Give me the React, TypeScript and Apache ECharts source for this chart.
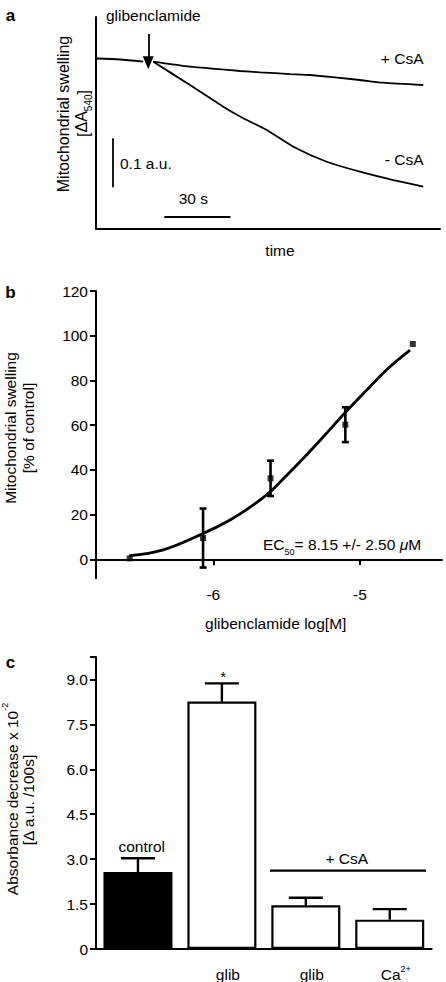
import React, { useEffect, useRef } from 'react';
import * as echarts from 'echarts';

// ---------- Panel a: swelling time course ----------
const baselineTime = [0, 10.9, 21.4];
const baselineA = [0.3474, 0.3454, 0.3409];
const plusCsATime = [26.0, 42.6, 65.3, 74.4, 88.0, 97.0, 119.7, 130.3, 148.4];
const plusCsAValue = [0.3409, 0.3307, 0.322, 0.3193, 0.3158, 0.3138, 0.3036, 0.2981, 0.2934];
const minusCsATime = [26.0, 42.6, 57.7, 66.8, 77.4, 89.5, 104.6, 119.7, 134.8, 148.4];
const minusCsAValue = [0.3409, 0.2934, 0.2492, 0.2256, 0.2017, 0.1677, 0.1371, 0.1168, 0.0998, 0.0862];
const glibAdditionTime = 23.7;
const arrowFromTo = [0.3974, 0.3389];
const scaleBarA = { t: 7.6, from: 0.085, to: 0.185 };
const scaleBarT = { a: 0.0251, from: 31, to: 61 };

// ---------- Panel b: dose response ----------
const doseLog = [-6.57, -6.07, -5.61, -5.1, -4.64];
const swellMean = [0.4, 9.5, 36.2, 60.2, 96.3];
const swellSem = [0, 13.2, 7.9, 7.8, 0];
const fitLog = [-6.573, -6.341, -6.068, -5.886, -5.727, -5.607, -5.543, -5.386, -5.25, -5.096, -4.932, -4.796, -4.659];
const fitValue = [1.6, 4.2, 11.6, 17.6, 24.3, 30.5, 34.7, 45.2, 54.8, 66, 77.2, 86.1, 93.6];
const doseTicks = [-6, -5];
const swellTicks = [0, 20, 40, 60, 80, 100, 120];

// ---------- Panel c: absorbance decrease ----------
const barCategories = ['control', 'glib', 'glib + CsA', 'Ca2+ + CsA'];
const barLabels = ['', 'glib', 'glib', 'Ca2+'];
const barMeans = [2.57, 8.26, 1.46, 0.98];
const barSem = [0.46, 0.61, 0.25, 0.35];
const barFill = ['#000000', '#ffffff', '#ffffff', '#ffffff'];

const FONT = '"Liberation Sans", Arial, Helvetica, sans-serif';

function txt(x: number, y: number, text: string, opts: any = {}) {
  return {
    type: 'text',
    x,
    y,
    rotation: opts.rotation || 0,
    silent: true,
    style: {
      text,
      fill: '#000',
      fontFamily: FONT,
      fontSize: opts.fontSize || 15,
      fontWeight: opts.fontWeight || 'normal',
      align: opts.align || 'center',
      verticalAlign: 'middle',
      textAlign: opts.align || 'center',
      textVerticalAlign: 'middle',
      rich: opts.rich,
    },
  };
}

export default function App() {
  const ref = useRef<HTMLDivElement>(null);

  useEffect(() => {
    document.body.style.margin = '0';
    if (!ref.current) return;
    const chart = echarts.init(ref.current, null, { renderer: 'svg' });

    const axisLine = { show: true, lineStyle: { color: '#000', width: 2 } };
    const labelStyle = { color: '#000', fontFamily: FONT, fontSize: 15.5 };

    const option: any = {
      animation: false,
      backgroundColor: '#fff',
      textStyle: { fontFamily: FONT },
      grid: [
        { left: 96, right: 6, top: 17, bottom: 753 },
        { left: 96, right: 4, top: 291, bottom: 403.7 },
        { left: 96, right: 14.3, top: 657, bottom: 31.3 },
      ],
      xAxis: [
        {
          gridIndex: 0, type: 'value', min: 0, max: 156,
          axisLine, axisTick: { show: false }, axisLabel: { show: false }, splitLine: { show: false },
        },
        {
          gridIndex: 1, type: 'value', min: -6.8, max: -4.441,
          axisLine,
          axisTick: { show: true, customValues: doseTicks, length: 6, lineStyle: { color: '#000', width: 2 } },
          axisLabel: { ...labelStyle, customValues: doseTicks, margin: 8 },
          splitLine: { show: false },
        },
        {
          gridIndex: 2, type: 'category', data: barCategories,
          axisLine, axisTick: { show: false },
          axisLabel: {
            ...labelStyle,
            margin: 15,
            interval: 0,
            padding: [0, 0, 0, 12],
            formatter: (_v: string, i: number) => {
              const l = barLabels[i];
              if (l === 'Ca2+') return '{n|Ca}{sup|2+}';
              return l ? '{n|' + l + '}' : '';
            },
            rich: {
              n: { fontFamily: FONT, fontSize: 15.5, color: '#000', lineHeight: 18, verticalAlign: 'bottom' },
              sup: { fontFamily: FONT, fontSize: 9, color: '#000', lineHeight: 18, verticalAlign: 'top' },
            },
          },
          splitLine: { show: false },
        },
      ],
      yAxis: [
        {
          gridIndex: 0, type: 'value', min: 0, max: 0.432,
          axisLine, axisTick: { show: false }, axisLabel: { show: false }, splitLine: { show: false },
        },
        {
          gridIndex: 1, type: 'value', min: -8.5, max: 120,
          axisLine,
          axisTick: { show: true, customValues: swellTicks, length: 6, lineStyle: { color: '#000', width: 2 } },
          axisLabel: { ...labelStyle, customValues: swellTicks, margin: 8 },
          splitLine: { show: false },
        },
        {
          gridIndex: 2, type: 'value', min: 0, max: 9.75, interval: 1.5,
          axisLine,
          axisTick: { show: true, length: 6, lineStyle: { color: '#000', width: 2 } },
          axisLabel: {
            ...labelStyle, margin: 8,
            formatter: (v: number) => {
              if (Math.abs(v / 1.5 - Math.round(v / 1.5)) > 1e-6) return '';
              return v === 0 ? '0' : v.toFixed(1);
            },
          },
          splitLine: { show: false },
        },
      ],
      series: [
        // Panel a
        {
          name: 'baseline', type: 'line', xAxisIndex: 0, yAxisIndex: 0,
          data: baselineTime.map((t, i) => [t, baselineA[i]]),
          showSymbol: false, smooth: 0.2,
          lineStyle: { color: '#000', width: 1.8 },
          markLine: {
            silent: true, animation: false,
            symbol: ['none', 'triangle'], symbolSize: [11, 13],
            label: { show: false },
            lineStyle: { color: '#000', width: 1.8, type: 'solid' },
            data: [[
              { coord: [glibAdditionTime, arrowFromTo[0]] },
              { coord: [glibAdditionTime, arrowFromTo[1]] },
            ]],
          },
        },
        {
          name: '+ CsA', type: 'line', xAxisIndex: 0, yAxisIndex: 0,
          data: plusCsATime.map((t, i) => [t, plusCsAValue[i]]),
          showSymbol: false, smooth: 0.2,
          lineStyle: { color: '#000', width: 1.8 },
          markLine: {
            silent: true, animation: false, symbol: ['none', 'none'],
            label: { show: false },
            lineStyle: { color: '#000', width: 1.8, type: 'solid' },
            data: [
              [{ coord: [scaleBarA.t, scaleBarA.from] }, { coord: [scaleBarA.t, scaleBarA.to] }],
              [{ coord: [scaleBarT.from, scaleBarT.a] }, { coord: [scaleBarT.to, scaleBarT.a] }],
            ],
          },
        },
        {
          name: '- CsA', type: 'line', xAxisIndex: 0, yAxisIndex: 0,
          data: minusCsATime.map((t, i) => [t, minusCsAValue[i]]),
          showSymbol: false, smooth: 0.2,
          lineStyle: { color: '#000', width: 1.8 },
        },
        // Panel b
        {
          name: 'fit', type: 'line', xAxisIndex: 1, yAxisIndex: 1,
          data: fitLog.map((x, i) => [x, fitValue[i]]),
          showSymbol: false, smooth: 0.4,
          lineStyle: { color: '#000', width: 2.8 },
        },
        {
          name: 'sem', type: 'custom', xAxisIndex: 1, yAxisIndex: 1,
          data: doseLog.map((x, i) => [x, swellMean[i], swellSem[i]]).filter((d) => d[2] > 0),
          renderItem: (_p: any, api: any) => {
            const x = api.value(0), m = api.value(1), e = api.value(2);
            const lo = api.coord([x, m - e]);
            const hi = api.coord([x, m + e]);
            const st = { stroke: '#000', lineWidth: 2.6 };
            return {
              type: 'group',
              children: [
                { type: 'line', shape: { x1: lo[0], y1: lo[1], x2: hi[0], y2: hi[1] }, style: st },
                { type: 'line', shape: { x1: lo[0] - 3.5, y1: lo[1], x2: lo[0] + 3.5, y2: lo[1] }, style: st },
                { type: 'line', shape: { x1: hi[0] - 3.5, y1: hi[1], x2: hi[0] + 3.5, y2: hi[1] }, style: st },
              ],
            };
          },
          z: 3,
        },
        {
          name: 'mean', type: 'scatter', xAxisIndex: 1, yAxisIndex: 1,
          data: doseLog.map((x, i) => [x, swellMean[i]]),
          symbol: 'rect', symbolSize: 6,
          itemStyle: { color: '#000' },
          z: 4,
        },
        // Panel c
        {
          name: 'bars', type: 'bar', xAxisIndex: 2, yAxisIndex: 2,
          barWidth: 69,
          data: barMeans.map((v, i) => ({
            value: v,
            itemStyle: { color: barFill[i], borderColor: '#000', borderWidth: 2.2 },
          })),
        },
        {
          name: 'barSem', type: 'custom', xAxisIndex: 2, yAxisIndex: 2,
          data: barMeans.map((v, i) => [i, v, barSem[i]]),
          renderItem: (_p: any, api: any) => {
            const x = api.value(0), m = api.value(1), e = api.value(2);
            const b = api.coord([x, m]);
            const t = api.coord([x, m + e]);
            const st = { stroke: '#000', lineWidth: 2.4 };
            return {
              type: 'group',
              children: [
                { type: 'line', shape: { x1: b[0], y1: b[1], x2: t[0], y2: t[1] }, style: st },
                { type: 'line', shape: { x1: t[0] - 17, y1: t[1], x2: t[0] + 17, y2: t[1] }, style: st },
              ],
            };
          },
          z: 3,
        },
      ],
      graphic: [
        // panel letters
        txt(10.5, 15, 'a', { fontWeight: 'bold', fontSize: 17 }),
        txt(10.5, 292, 'b', { fontWeight: 'bold', fontSize: 17 }),
        txt(10.5, 662, 'c', { fontWeight: 'bold', fontSize: 17 }),
        // panel a annotations
        txt(153.3, 15, 'glibenclamide', { fontSize: 15.5 }),
        txt(423.5, 58.3, '+ CsA', { align: 'right', fontSize: 15.5 }),
        txt(423.5, 159, '- CsA', { align: 'right', fontSize: 15.5 }),
        txt(120, 163.3, '0.1 a.u.', { align: 'left', fontSize: 15.5 }),
        txt(193.3, 198, '30 s', { fontSize: 15.5 }),
        txt(280, 250, 'time', { fontSize: 15.5 }),
        txt(63.3, 114, 'Mitochondrial swelling', { rotation: Math.PI / 2, fontSize: 16 }),
        txt(83.3, 113.5, '[{n|ΔA}{s|540}]', {
          rotation: Math.PI / 2, fontSize: 16,
          rich: {
            n: { fontFamily: FONT, fontSize: 16, lineHeight: 20, verticalAlign: 'top' },
            s: { fontFamily: FONT, fontSize: 10, lineHeight: 20, verticalAlign: 'bottom' },
          },
        }),
        // panel b annotations
        txt(10, 428, 'Mitochondrial swelling', { rotation: Math.PI / 2, fontSize: 15.5 }),
        txt(28.3, 428, '[% of control]', { rotation: Math.PI / 2, fontSize: 15.5 }),
        txt(275.7, 623.3, 'glibenclamide log[M]', { fontSize: 15.5 }),
        txt(263, 546, '{n|EC}{s|50}{n|= 8.15 +/- 2.50 }{mu|μ}{n|M}', {
          align: 'left',
          rich: {
            n: { fontFamily: FONT, fontSize: 15.5, lineHeight: 20, verticalAlign: 'top' },
            s: { fontFamily: FONT, fontSize: 9, lineHeight: 20, verticalAlign: 'bottom' },
            mu: { fontFamily: FONT, fontSize: 15.5, fontStyle: 'italic', lineHeight: 20, verticalAlign: 'top' },
          },
        }),
        // panel c annotations
        txt(10, 799, '{n|Absorbance decrease x 10}{s|-2}', {
          rotation: Math.PI / 2, fontSize: 15.5,
          rich: {
            n: { fontFamily: FONT, fontSize: 15.5, lineHeight: 20, verticalAlign: 'bottom' },
            s: { fontFamily: FONT, fontSize: 9, lineHeight: 20, verticalAlign: 'top' },
          },
        }),
        txt(28.3, 800, '[Δ a.u. /100s]', { rotation: Math.PI / 2, fontSize: 15.5 }),
        txt(141.7, 846, 'control', { fontSize: 15.5 }),
        txt(346.7, 858.3, '+ CsA', { fontSize: 15.5 }),
        txt(223.3, 677, '*', { fontSize: 14 }),
        {
          type: 'line', silent: true,
          shape: { x1: 270, y1: 870.7, x2: 426, y2: 870.7 },
          style: { stroke: '#000', lineWidth: 2.2 },
        },
      ],
    };

    chart.setOption(option);
    return () => chart.dispose();
  }, []);

  return <div ref={ref} style={{ width: 446, height: 982 }} />;
}
